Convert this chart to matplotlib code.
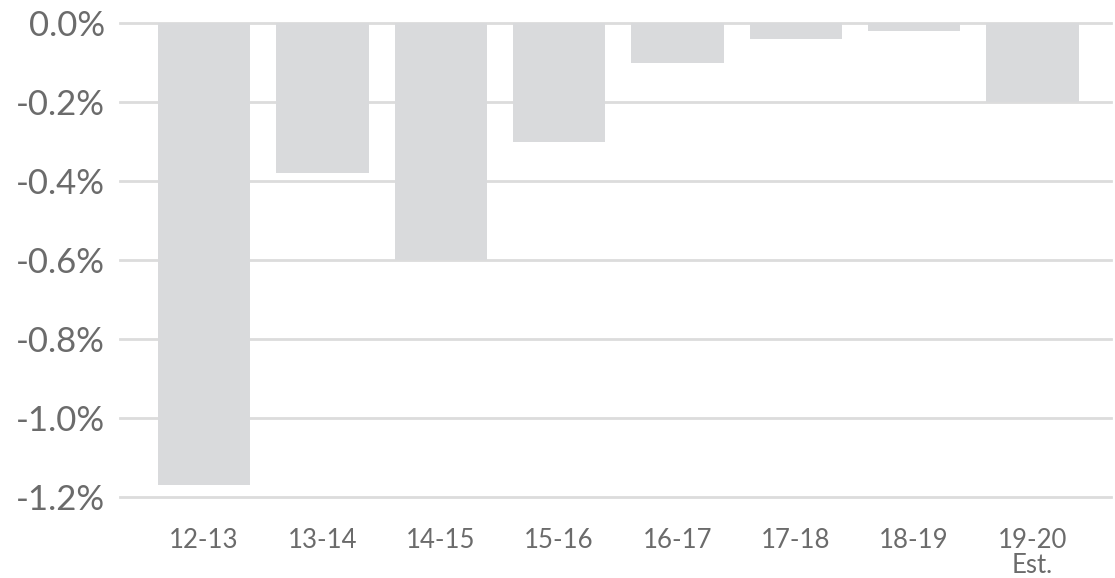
import matplotlib.pyplot as plt
from matplotlib.ticker import FuncFormatter

# Year-over-year change by fiscal year
years = ['12-13', '13-14', '14-15', '15-16', '16-17', '17-18', '18-19', '19-20\nEst.']
change = [-1.17, -0.38, -0.60, -0.30, -0.10, -0.04, -0.02, -0.20]
y_ticks = [0.0, -0.2, -0.4, -0.6, -0.8, -1.0, -1.2]

plt.rcParams['font.family'] = ['Lato', 'DejaVu Sans']

fig = plt.figure(figsize=(11.15, 5.78), dpi=100)
ax = fig.add_axes([0.1076, 0.1401, 0.8888, 0.8201])

x = range(len(years))
ax.bar(x, change, width=0.78, color='#d9dadc', zorder=2)

for t in y_ticks:
    ax.axhline(t, color='#dcdcdc', lw=2, zorder=1, clip_on=False)

ax.set_xlim(-0.71, 7.663)
ax.set_ylim(-1.2, 0)
ax.set_yticks(y_ticks)
ax.yaxis.set_major_formatter(FuncFormatter(lambda v, _: f'{v:.1f}%' if abs(v) > 1e-9 else '0.0%'))
ax.set_xticks(list(x))
ax.set_xticklabels(years, linespacing=1.0)

for s in ax.spines.values():
    s.set_visible(False)
ax.tick_params(axis='y', length=0, pad=11, labelsize=25, labelcolor='#6b6b6b')
ax.tick_params(axis='x', length=0, pad=22, labelsize=18.5, labelcolor='#6b6b6b')

fig.savefig('out.png', dpi=100, facecolor='white')
